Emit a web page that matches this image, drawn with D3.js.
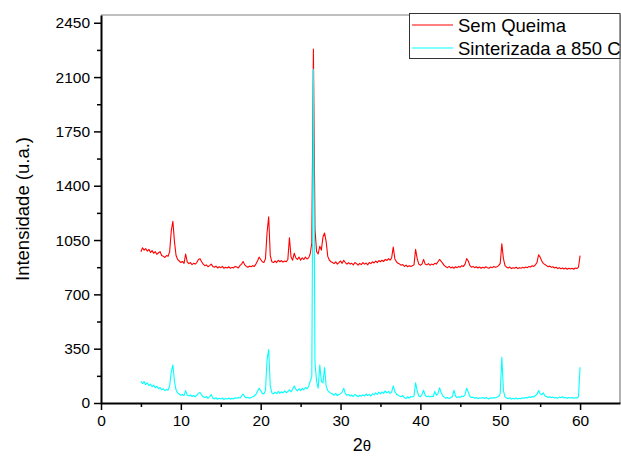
<!DOCTYPE html>
<html>
<head>
<meta charset="utf-8">
<script src="https://cdn.jsdelivr.net/npm/d3@7"></script>
<style>
  body { margin: 0; background: #fff; }
  svg { display: block; font-family: "Liberation Sans", Arial, sans-serif; }
</style>
</head>
<body>
<div id="chart"></div>
<script>
// 2-theta sampling grid (degrees)
const thetaStart = 5, thetaStep = 0.2;

// Sem Queima, one value per 0.2 deg step from 5.0 to 60.0
const semQueima = [
  975, 1000, 985, 995, 978, 990, 970, 982, 965, 975,
  958, 968, 975, 950, 945, 938, 950, 945, 975, 1110,
  1170, 1040, 950, 925, 915, 905, 912, 900, 960, 910,
  898, 905, 892, 900, 895, 905, 925, 930, 910, 895,
  885, 890, 878, 885, 895, 880, 875, 882, 870, 878,
  872, 880, 868, 875, 870, 878, 868, 874, 870, 880,
  876, 870, 885, 895, 912, 890, 880, 875, 882, 878,
  885, 880, 895, 915, 940, 925, 910, 905, 930, 1100,
  1200, 950, 910, 905, 915, 905, 920, 910, 918, 908,
  915, 910, 925, 1065, 940, 920, 965, 935, 925, 940,
  920, 935, 925, 940, 928, 935, 960, 1030, 2280, 1120,
  975, 960, 1010, 985, 1070, 1095, 1040, 945, 920, 910,
  905, 898, 910, 895, 905, 915, 900, 920, 905, 895,
  905, 895, 900, 890, 905, 898, 888, 900, 892, 905,
  895, 902, 890, 905, 898, 910, 902, 915, 905, 918,
  910, 920, 912, 925, 918, 930, 920, 935, 1005, 930,
  910, 900, 895, 888, 892, 880, 888, 878, 885, 880,
  885, 890, 990, 930, 895, 888, 895, 925, 895, 890,
  898, 888, 895, 890, 900, 895, 910, 925, 912, 900,
  885, 878, 872, 880, 870, 876, 868, 878, 872, 880,
  875, 885, 880, 895, 930, 915, 885, 875, 880, 872,
  878, 870, 876, 868, 875, 870, 878, 872, 868, 876,
  872, 880, 874, 878, 885, 900, 1025, 930, 885, 875,
  870, 876, 866, 872, 868, 875, 866, 872, 868, 874,
  870, 876, 872, 880, 876, 884, 880, 890, 905, 955,
  940, 915, 900, 892, 885, 878, 882, 874, 878, 870,
  875, 866, 872, 865, 870, 864, 870, 862, 868, 864,
  868, 862, 870, 866, 875, 950
];

// Sinterizada a 850 C, same grid
const sinterizada = [
  140, 125, 138, 118, 130, 112, 122, 105, 115, 98,
  108, 92, 100, 85, 92, 80, 88, 82, 110, 200,
  245, 140, 85, 65, 58, 50, 55, 48, 80, 50,
  45, 52, 42, 48, 40, 50, 62, 68, 52, 40,
  35, 42, 30, 38, 55, 32, 26, 35, 24, 30,
  26, 33, 22, 30, 25, 32, 24, 30, 26, 34,
  30, 36, 32, 45, 58, 40, 32, 38, 30, 36,
  40, 45, 55, 75, 95, 80, 62, 58, 80, 280,
  345, 110, 65, 58, 70, 60, 75, 62, 72, 65,
  78, 66, 74, 85, 72, 88, 110, 90, 78, 92,
  80, 95, 85, 100, 92, 105, 140, 170, 2150, 260,
  140, 95, 245, 140, 130, 228, 110, 80, 70, 62,
  58, 50, 62, 48, 55, 60, 70, 95, 60, 50,
  55, 45, 52, 42, 55, 48, 40, 50, 44, 52,
  45, 58, 48, 55, 45, 60, 52, 65, 55, 70,
  58, 72, 62, 78, 65, 75, 62, 70, 110, 75,
  58, 50, 45, 40, 48, 35, 28, 40, 32, 42,
  38, 45, 130, 80, 45, 40, 55, 82, 50, 40,
  45, 38, 44, 40, 75, 50, 60, 98, 68, 45,
  38, 30, 36, 28, 35, 40, 82, 45, 35, 40,
  36, 45, 40, 55, 95, 70, 42, 35, 38, 30,
  36, 28, 34, 30, 36, 28, 35, 30, 26, 34,
  30, 36, 32, 38, 42, 60, 295, 80, 40, 32,
  28, 34, 25, 30, 26, 33, 25, 30, 27, 34,
  30, 36, 32, 40, 35, 42, 38, 48, 55, 80,
  60, 52, 65, 45, 42, 36, 40, 34, 38, 32,
  36, 30, 38, 34, 40, 32, 36, 30, 35, 32,
  36, 30, 34, 32, 40, 230
];

const series = [
  { name: 'Sem Queima', values: semQueima, color: '#ff0000' },
  { name: 'Sinterizada a 850 C', values: sinterizada, color: '#00ffff' }
];

const xTicks = [0, 10, 20, 30, 40, 50, 60];
const yTicks = [0, 350, 700, 1050, 1400, 1750, 2100, 2450];

const W = 621, H = 457;
const plot = { left: 101, right: 620, top: 15, bottom: 403 };

const svg = d3.select('#chart').append('svg')
  .attr('width', W)
  .attr('height', H);

const x = d3.scaleLinear().domain([0, 65]).range([plot.left, plot.right]);
const y = d3.scaleLinear().domain([0, 2500]).range([plot.bottom, plot.top]);

// grey frame on top and right
svg.append('path')
  .attr('d', `M${plot.left},${plot.top}H${plot.right}V${plot.bottom}`)
  .attr('fill', 'none')
  .attr('stroke', '#808080')
  .attr('stroke-width', 1.2);

// data lines
const line = d3.line()
  .x((d, i) => x(thetaStart + i * thetaStep))
  .y(d => y(d));

series.forEach(s => {
  svg.append('path')
    .datum(s.values)
    .attr('fill', 'none')
    .attr('stroke', s.color)
    .attr('stroke-width', 1.1)
    .attr('stroke-linejoin', 'round')
    .attr('d', line);
});

// minor ticks
const minorX = d3.range(5, 65, 10);
const minorY = d3.range(175, 2500, 350);

svg.append('g')
  .attr('transform', `translate(0,${plot.bottom})`)
  .call(d3.axisBottom(x).tickValues(minorX).tickSize(4).tickFormat(''))
  .call(g => g.select('.domain').remove());

svg.append('g')
  .attr('transform', `translate(${plot.left},0)`)
  .call(d3.axisLeft(y).tickValues(minorY).tickSize(4).tickFormat(''))
  .call(g => g.select('.domain').remove());

// main axes
const xAxis = svg.append('g')
  .attr('transform', `translate(0,${plot.bottom})`)
  .call(d3.axisBottom(x).tickValues(xTicks).tickFormat(d3.format('d'))
    .tickSize(7).tickPadding(5).tickSizeOuter(0));

const yAxis = svg.append('g')
  .attr('transform', `translate(${plot.left},0)`)
  .call(d3.axisLeft(y).tickValues(yTicks).tickFormat(d3.format('d'))
    .tickSize(7).tickPadding(4).tickSizeOuter(0));

svg.selectAll('.tick line').attr('stroke', '#000').attr('stroke-width', 1.5);
[xAxis, yAxis].forEach(g => {
  g.select('.domain').attr('stroke', '#000').attr('stroke-width', 2);
  g.selectAll('text')
    .attr('font-family', '"Liberation Sans", Arial, sans-serif')
    .attr('font-size', '15.5px')
    .attr('fill', '#000');
});

// axis titles
const xTitle = svg.append('text')
  .attr('x', 362)
  .attr('y', 451)
  .attr('text-anchor', 'middle')
  .attr('font-size', '18px');
xTitle.append('tspan').text('2');
xTitle.append('tspan').attr('font-size', '15px').text('θ');

svg.append('text')
  .attr('transform', `translate(29,${(plot.top + plot.bottom) / 2}) rotate(-90)`)
  .attr('text-anchor', 'middle')
  .attr('font-size', '18.5px')
  .text('Intensidade (u.a.)');

// legend
const legend = svg.append('g');
legend.append('rect')
  .attr('x', 409.5)
  .attr('y', 13.5)
  .attr('width', 210.5)
  .attr('height', 45)
  .attr('fill', '#fff')
  .attr('stroke', '#333')
  .attr('stroke-width', 1);

series.forEach((s, i) => {
  const ly = 25 + i * 23;
  legend.append('line')
    .attr('x1', 412).attr('x2', 453)
    .attr('y1', ly).attr('y2', ly)
    .attr('stroke', s.color)
    .attr('stroke-width', 1);
  legend.append('text')
    .attr('x', 458)
    .attr('y', ly + 7)
    .attr('font-size', '18.5px')
    .text(s.name);
});
</script>
</body>
</html>
